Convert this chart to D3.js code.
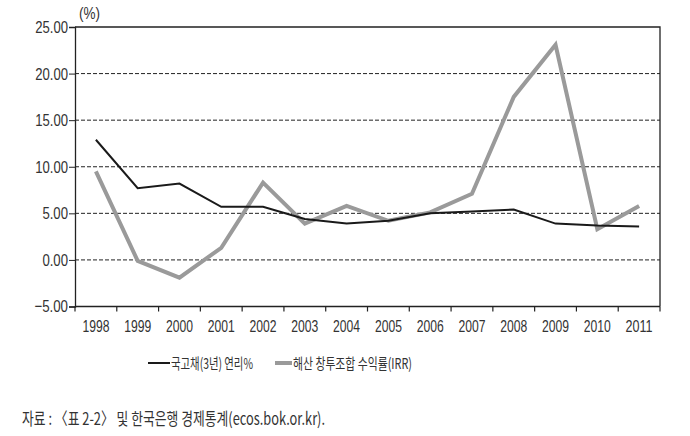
<!DOCTYPE html>
<html>
<head>
<meta charset="utf-8">
<script src="https://cdn.jsdelivr.net/npm/d3@7"></script>
<style>
  body { margin: 0; background: #fff; }
  svg { display: block; }
  .tick text { font-family: "Liberation Sans", sans-serif; font-size: 17px; fill: #333; }
</style>
</head>
<body>
<svg width="690" height="436"></svg>
<script>
// data
const years = ["1998","1999","2000","2001","2002","2003","2004","2005","2006","2007","2008","2009","2010","2011"];
const bondRate = [12.9, 7.7, 8.2, 5.7, 5.7, 4.4, 3.9, 4.2, 5.0, 5.2, 5.4, 3.9, 3.7, 3.6];
const fundIRR = [9.5, -0.1, -1.9, 1.3, 8.3, 3.9, 5.8, 4.2, 5.1, 7.1, 17.5, 23.1, 3.3, 5.8];
const yTicks = [-5, 0, 5, 10, 15, 20, 25];
const seriesNames = ["국고채(3년) 연리%", "해산 창투조합 수익률(IRR)"];

const svg = d3.select("svg");

const plotLeft = 75, plotRight = 660, plotTop = 27, plotBottom = 306.5;

const x = d3.scaleBand().domain(years).range([plotLeft, plotRight]);
const y = d3.scaleLinear().domain([-5, 25]).range([plotBottom, plotTop]);

// dashed grid lines
svg.append("g")
   .selectAll("line")
   .data(yTicks.filter(d => d > -5 && d < 25))
   .enter()
   .append("line")
   .attr("x1", plotLeft)
   .attr("x2", plotRight)
   .attr("y1", d => y(d))
   .attr("y2", d => y(d))
   .attr("stroke", "#222")
   .attr("stroke-width", 1)
   .attr("stroke-dasharray", "4,2");

// frame: top and right border
svg.append("path")
   .attr("d", `M${plotLeft},${y(25)}H${plotRight}V${y(-5)}`)
   .attr("fill", "none")
   .attr("stroke", "#222")
   .attr("stroke-width", 1.3);

// y axis
const fmt = d => (d < 0 ? "\u2212" : "") + Math.abs(d).toFixed(2);
const yAxis = svg.append("g")
   .attr("transform", `translate(${plotLeft},0)`)
   .call(d3.axisLeft(y).tickValues(yTicks).tickSize(6).tickPadding(1).tickFormat(fmt));
yAxis.select(".domain").attr("stroke", "#222").attr("stroke-width", 1.3);
yAxis.selectAll(".tick line").attr("stroke", "#222");
// the reference uses a condensed face, so squeeze the labels
yAxis.selectAll(".tick text")
   .attr("textLength", d => String(Math.abs(d)).length * 7.2 + 2 * 7.2 + 4 + (d < 0 ? 8 : 0))
   .attr("lengthAdjust", "spacingAndGlyphs");

// x axis: labels centered in bands, ticks at band boundaries
const xAxis = svg.append("g")
   .attr("transform", `translate(0,${plotBottom})`)
   .call(d3.axisBottom(x).tickSize(0).tickPadding(13));
xAxis.select(".domain").remove();
xAxis.selectAll(".tick text")
   .attr("textLength", 27)
   .attr("lengthAdjust", "spacingAndGlyphs");

svg.append("line")
   .attr("x1", plotLeft).attr("x2", plotRight)
   .attr("y1", plotBottom).attr("y2", plotBottom)
   .attr("stroke", "#222").attr("stroke-width", 1.3);

svg.append("g")
   .selectAll("line")
   .data(years.map(d => x(d)).concat([plotRight]))
   .enter()
   .append("line")
   .attr("x1", d => d).attr("x2", d => d)
   .attr("y1", plotBottom).attr("y2", plotBottom + 5)
   .attr("stroke", "#222").attr("stroke-width", 1.2);

// unit label
svg.append("text")
   .attr("x", 79)
   .attr("y", 19)
   .attr("font-family", "Liberation Sans, sans-serif")
   .attr("font-size", 16)
   .attr("fill", "#333")
   .attr("textLength", 21).attr("lengthAdjust", "spacingAndGlyphs")
   .text("(%)");

const line = d3.line()
   .x((d, i) => x(years[i]) + x.bandwidth() / 2)
   .y(d => y(d));

svg.append("path")
   .datum(fundIRR)
   .attr("d", line)
   .attr("fill", "none")
   .attr("stroke", "#9a9a9a")
   .attr("stroke-width", 4);

svg.append("path")
   .datum(bondRate)
   .attr("d", line)
   .attr("fill", "none")
   .attr("stroke", "#1a1a1a")
   .attr("stroke-width", 2);

// legend
const legend = svg.append("g").attr("font-family", "Noto Sans CJK KR, sans-serif").attr("font-size", 15).attr("fill", "#333");

legend.append("line")
   .attr("x1", 148).attr("x2", 170).attr("y1", 363).attr("y2", 363)
   .attr("stroke", "#1a1a1a").attr("stroke-width", 2);
legend.append("text")
   .attr("x", 171).attr("y", 368.5)
   .attr("textLength", 82).attr("lengthAdjust", "spacingAndGlyphs")
   .text(seriesNames[0]);

legend.append("line")
   .attr("x1", 275).attr("x2", 292).attr("y1", 363).attr("y2", 363)
   .attr("stroke", "#9a9a9a").attr("stroke-width", 4);
legend.append("text")
   .attr("x", 293).attr("y", 368.5)
   .attr("textLength", 119).attr("lengthAdjust", "spacingAndGlyphs")
   .text(seriesNames[1]);

// source note
svg.append("text")
   .attr("x", 22).attr("y", 425)
   .attr("font-family", "Noto Sans CJK KR, sans-serif")
   .attr("font-size", 17)
   .attr("fill", "#333")
   .attr("textLength", 303).attr("lengthAdjust", "spacingAndGlyphs")
   .text("자료 : 〈표 2-2〉 및 한국은행 경제통계(ecos.bok.or.kr).");
</script>
</body>
</html>
